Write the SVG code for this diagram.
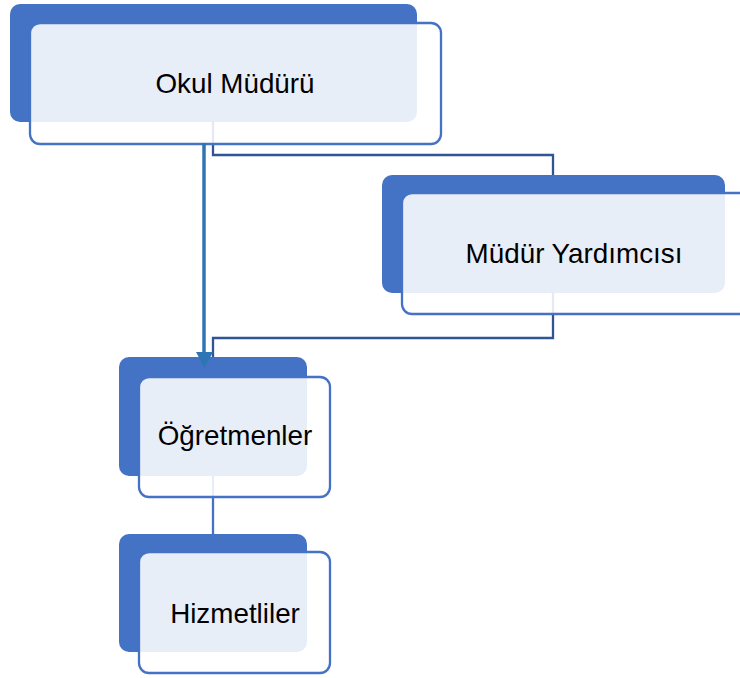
<svg xmlns="http://www.w3.org/2000/svg" width="740" height="678" viewBox="0 0 740 678">
<style>
.back{fill:#4472C4}
.front{fill:#ffffff;fill-opacity:0.88;stroke:#4472C4;stroke-width:2.3}
.lbl{font-family:"Liberation Sans",Arial,sans-serif;font-size:27.8px;fill:#000;text-anchor:middle}
.conn{fill:none;stroke:#2F5597;stroke-width:2.3}
.conn2{fill:none;stroke:#4472C4;stroke-width:2.3}
.thick{fill:none;stroke:#2E75B6;stroke-width:3.5}
</style>
<rect width="740" height="678" fill="#ffffff"/>
<g id="connectors">
<path class="conn" d="M213,122 V155 H553 V175"/>
<path class="conn" d="M553,293 V338 H213 V357"/>
<path class="conn2" d="M213,476 V534"/>
</g>
<g id="node-okul-muduru">
<rect class="back" x="10" y="4" width="407" height="118" rx="10"/>
<rect class="front" x="30" y="23" width="411" height="121" rx="10"/>
<text class="lbl" x="235" y="93">Okul Müdürü</text>
</g>
<g id="node-mudur-yardimcisi">
<rect class="back" x="382" y="175" width="343" height="118" rx="10"/>
<rect class="front" x="402" y="193" width="350" height="121" rx="10"/>
<text class="lbl" x="574" y="263">Müdür Yardımcısı</text>
</g>
<g id="node-ogretmenler">
<rect class="back" x="119" y="357" width="188" height="119" rx="10"/>
<rect class="front" x="139" y="377" width="191" height="120" rx="10"/>
<text class="lbl" x="235" y="445">Öğretmenler</text>
</g>
<g id="node-hizmetliler">
<rect class="back" x="119" y="534" width="188" height="118" rx="10"/>
<rect class="front" x="139" y="552" width="191" height="121" rx="10"/>
<text class="lbl" x="235" y="623">Hizmetliler</text>
</g>
<g id="connector-arrow">
<path d="M204,143 V353" class="thick"/>
<path d="M196,352 L213,352 L204.5,368 Z" fill="#2E75B6"/>
</g>
</svg>
